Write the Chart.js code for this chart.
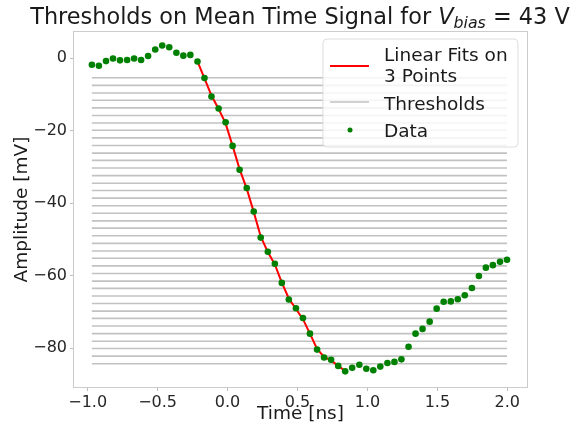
<!DOCTYPE html>
<html>
<head>
<meta charset="utf-8">
<script src="https://cdn.jsdelivr.net/npm/chart.js@4.4.0/dist/chart.umd.min.js"></script>
<style>
  html, body { margin:0; padding:0; background:#fff; }
  #wrap { width:577px; height:429px; }
</style>
</head>
<body>
<div id="wrap"><canvas id="grafico" width="577" height="429"></canvas></div>
<script>
// DADOS
const timeNs = [-0.970,-0.920,-0.869,-0.819,-0.769,-0.718,-0.668,-0.618,-0.568,-0.517,
  -0.467,-0.417,-0.366,-0.316,-0.266,-0.215,-0.165,-0.115,-0.064,-0.014,
  0.036,0.086,0.137,0.187,0.237,0.288,0.338,0.388,0.438,0.489,
  0.539,0.589,0.640,0.690,0.740,0.791,0.841,0.891,0.942,0.992,
  1.042,1.092,1.143,1.193,1.243,1.294,1.344,1.394,1.445,1.495,
  1.545,1.596,1.646,1.696,1.747,1.797,1.847,1.897,1.948,1.998];
const amplitudeMv = [-1.8,-2.1,-0.8,-0.1,-0.6,-0.5,-0.1,-0.5,0.6,2.4,
  3.5,3.0,1.5,0.7,0.9,-0.9,-5.5,-10.6,-13.9,-17.7,
  -24.2,-30.8,-35.8,-42.3,-49.5,-53.4,-56.7,-62.0,-66.6,-69.0,
  -71.7,-76.0,-80.4,-82.6,-83.2,-84.9,-86.4,-85.4,-84.6,-85.7,
  -86.1,-85.1,-84.1,-83.8,-83.1,-79.6,-76.0,-74.7,-72.7,-69.1,
  -67.2,-67.1,-66.5,-65.4,-63.4,-60.1,-57.8,-57.1,-56.2,-55.6];
// linha vermelha (ajustes de 3 pontos)
const fitTime = [-0.215,-0.165,-0.115,-0.064,-0.014,0.036,0.086,0.137,0.187,0.237,0.288,
  0.338,0.388,0.438,0.489,0.539,0.589,0.640,0.690,0.740,0.791,0.841];
const fitAmp = [-0.9,-5.6,-10.3,-14.0,-18.0,-24.2,-30.6,-36.0,-42.4,-49.2,-53.5,
  -56.9,-61.9,-66.3,-69.2,-72.0,-76.0,-80.2,-82.4,-83.4,-84.9,-86.3];
const thresholdsMv = [-5.4,-7.5,-9.6,-11.6,-13.7,-15.8,-17.9,-19.9,-22.0,-24.1,
  -26.2,-28.2,-30.3,-32.4,-34.5,-36.5,-38.6,-40.7,-42.8,-44.9,
  -46.9,-49.0,-51.1,-53.2,-55.2,-57.3,-59.4,-61.5,-63.5,-65.6,
  -67.7,-69.8,-71.8,-73.9,-76.0,-78.1,-80.1,-82.2,-84.3];
const xTicks = [-1.0,-0.5,0.0,0.5,1.0,1.5,2.0];
const yTicks = [0,-20,-40,-60,-80];

const FONT = '"DejaVu Sans", sans-serif';
const menos = (v, d) => (v < 0 ? '\u2212' : '') + Math.abs(v).toFixed(d);

// DATASETS
const datasets = [];
thresholdsMv.forEach(t => {
  datasets.push({
    label:'Thresholds', type:'line',
    data:[{x:timeNs[0], y:t},{x:timeNs[timeNs.length-1], y:t}],
    borderColor:'rgba(128,128,128,0.48)', borderWidth:1.6, pointRadius:0, order:3
  });
});
datasets.push({
  label:'Linear Fits on 3 Points', type:'line',
  data:fitTime.map((x,i)=>({x, y:fitAmp[i]})),
  borderColor:'#ff0000', borderWidth:2, pointRadius:0, order:2
});
datasets.push({
  label:'Data', type:'scatter',
  data:timeNs.map((x,i)=>({x, y:amplitudeMv[i]})),
  backgroundColor:'#008000', borderWidth:0, pointRadius:3.3, order:1
});

// MOLDURA + TITULO + LEGENDA
const extras = {
  id:'extras',
  beforeDatasetsDraw(chart){
    const {ctx, chartArea:a} = chart;
    ctx.save();
    ctx.strokeStyle = '#cccccc';
    ctx.lineWidth = 1;
    ctx.strokeRect(a.left+0.5, a.top+0.5, a.right-a.left-1, a.bottom-a.top-1);
    ctx.restore();
  },
  afterDraw(chart){
    const ctx = chart.ctx;
    ctx.save();
    // titulo
    const parts = [
      {t:'Thresholds on Mean Time Signal for ', f:'22.4px '+FONT, dy:0},
      {t:'V', f:'italic 22.4px '+FONT, dy:0},
      {t:'bias', f:'italic 15.8px '+FONT, dy:4},
      {t:' = 43 V', f:'22.4px '+FONT, dy:0}
    ];
    let total = 0;
    parts.forEach(p => { ctx.font = p.f; p.w = ctx.measureText(p.t).width; total += p.w; });
    let x = 300 - total/2;
    ctx.fillStyle = '#1a1a1a';
    ctx.textBaseline = 'alphabetic';
    parts.forEach(p => { ctx.font = p.f; ctx.fillText(p.t, x, 23.5 + p.dy); x += p.w; });

    // legenda
    const bx = 323, by = 39, bw = 195, bh = 108, r = 4;
    ctx.beginPath();
    ctx.moveTo(bx+r, by); ctx.lineTo(bx+bw-r, by); ctx.quadraticCurveTo(bx+bw, by, bx+bw, by+r);
    ctx.lineTo(bx+bw, by+bh-r); ctx.quadraticCurveTo(bx+bw, by+bh, bx+bw-r, by+bh);
    ctx.lineTo(bx+r, by+bh); ctx.quadraticCurveTo(bx, by+bh, bx, by+bh-r);
    ctx.lineTo(bx, by+r); ctx.quadraticCurveTo(bx, by, bx+r, by);
    ctx.closePath();
    ctx.fillStyle = 'rgba(255,255,255,0.82)';
    ctx.fill();
    ctx.strokeStyle = '#dddddd';
    ctx.lineWidth = 1;
    ctx.stroke();

    ctx.lineWidth = 2;
    ctx.strokeStyle = '#ff0000';
    ctx.beginPath(); ctx.moveTo(330, 66); ctx.lineTo(369, 66); ctx.stroke();
    ctx.lineWidth = 1.6;
    ctx.strokeStyle = 'rgba(128,128,128,0.48)';
    ctx.beginPath(); ctx.moveTo(330, 102); ctx.lineTo(369, 102); ctx.stroke();
    ctx.fillStyle = '#008000';
    ctx.beginPath(); ctx.arc(350, 130, 2.5, 0, Math.PI*2); ctx.fill();

    ctx.fillStyle = '#1a1a1a';
    ctx.font = '18.5px '+FONT;
    ctx.fillText('Linear Fits on', 384, 61);
    ctx.fillText('3 Points', 384, 82);
    ctx.fillText('Thresholds', 384, 110);
    ctx.fillText('Data', 384, 137);
    ctx.restore();
  }
};

new Chart(document.getElementById('grafico'), {
  type:'scatter',
  data:{ datasets },
  options:{
    responsive:false,
    animation:false,
    layout:{ padding:{ left:0, right:49, top:31, bottom:0 } },
    plugins:{ legend:{ display:false }, title:{ display:false }, tooltip:{ enabled:false } },
    scales:{
      x:{
        type:'linear', min:-1.105, max:2.148,
        afterBuildTicks: s => { s.ticks = xTicks.map(v => ({value:v})); },
        afterFit: s => { s.height = 41; },
        ticks:{ callback: v => menos(v, 1), font:{ family:FONT, size:16 }, color:'#262626', padding:2, maxRotation:0 },
        grid:{ display:true, drawOnChartArea:false, drawTicks:true, tickLength:3, color:'#bbbbbb' },
        border:{ display:false },
        title:{ display:true, text:'Time [ns]', font:{ family:FONT, size:18.5 }, color:'#1a1a1a', padding:{top:0, bottom:4} }
      },
      y:{
        type:'linear', min:-91, max:7.5,
        afterBuildTicks: s => { s.ticks = yTicks.map(v => ({value:v})); },
        afterFit: s => { s.width = 73; },
        ticks:{ callback: v => menos(v, 0), font:{ family:FONT, size:16 }, color:'#262626', padding:3 },
        grid:{ display:true, drawOnChartArea:false, drawTicks:true, tickLength:3, color:'#bbbbbb' },
        border:{ display:false },
        title:{ display:true, text:'Amplitude [mV]', font:{ family:FONT, size:18.5 }, color:'#1a1a1a', padding:{top:11, bottom:0} }
      }
    }
  },
  plugins:[extras]
});
</script>
</body>
</html>
